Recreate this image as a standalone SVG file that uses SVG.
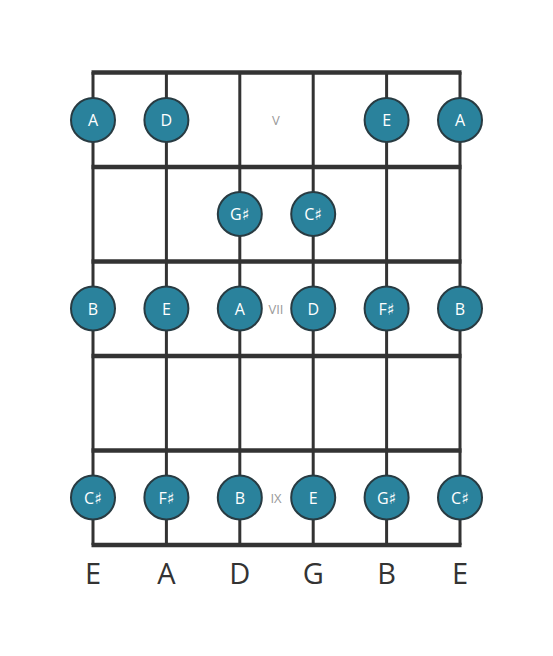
<svg xmlns="http://www.w3.org/2000/svg" width="553" height="656" viewBox="0 0 553 656">
<style>
.s{stroke:#333;stroke-width:3;fill:none}
.f{stroke:#333;stroke-width:4.5;fill:none}
.n circle{fill:#2a829c;stroke:#283b42;stroke-width:2}
.n text{fill:#fff;font-family:"Open Sans","DejaVu Sans",sans-serif;font-size:16px;text-anchor:middle;dominant-baseline:central}
.fl{fill:#999;font-family:"Open Sans","DejaVu Sans",sans-serif;font-size:13px;text-anchor:middle;dominant-baseline:central}
.sl{fill:#333;font-family:"Open Sans","DejaVu Sans",sans-serif;font-size:29px;text-anchor:middle}
</style>
<rect width="553" height="656" fill="#fff"/>
<g id="connectors">
<line class="s" x1="93" y1="72" x2="93" y2="545"/>
<line class="s" x1="166.4" y1="72" x2="166.4" y2="545"/>
<line class="s" x1="239.8" y1="72" x2="239.8" y2="545"/>
<line class="s" x1="313.2" y1="72" x2="313.2" y2="545"/>
<line class="s" x1="386.6" y1="72" x2="386.6" y2="545"/>
<line class="s" x1="460" y1="72" x2="460" y2="545"/>
<line class="f" x1="91.5" y1="72.5" x2="461.5" y2="72.5"/>
<line class="f" x1="91.5" y1="167" x2="461.5" y2="167"/>
<line class="f" x1="91.5" y1="261.5" x2="461.5" y2="261.5"/>
<line class="f" x1="91.5" y1="356" x2="461.5" y2="356"/>
<line class="f" x1="91.5" y1="450.5" x2="461.5" y2="450.5"/>
<line class="f" x1="91.5" y1="545" x2="461.5" y2="545"/>
</g>
<g id="fret-labels">
<text class="fl" x="276" y="120">V</text>
<text class="fl" x="276" y="309">VII</text>
<text class="fl" x="276" y="498">IX</text>
</g>
<g id="string-labels">
<text class="sl" x="93" y="584">E</text>
<text class="sl" x="166.4" y="584">A</text>
<text class="sl" x="239.8" y="584">D</text>
<text class="sl" x="313.2" y="584">G</text>
<text class="sl" x="386.6" y="584">B</text>
<text class="sl" x="460" y="584">E</text>
</g>
<g id="n1" class="n"><circle cx="93" cy="120" r="22"/><text x="93" y="120">A</text></g>
<g id="n2" class="n"><circle cx="166.4" cy="120" r="22"/><text x="166.4" y="120">D</text></g>
<g id="n3" class="n"><circle cx="386.6" cy="120" r="22"/><text x="386.6" y="120">E</text></g>
<g id="n4" class="n"><circle cx="460" cy="120" r="22"/><text x="460" y="120">A</text></g>
<g id="n5" class="n"><circle cx="239.8" cy="214" r="22"/><text x="239.8" y="214">G♯</text></g>
<g id="n6" class="n"><circle cx="313.2" cy="214" r="22"/><text x="313.2" y="214">C♯</text></g>
<g id="n7" class="n"><circle cx="93" cy="308.5" r="22"/><text x="93" y="308.5">B</text></g>
<g id="n8" class="n"><circle cx="166.4" cy="308.5" r="22"/><text x="166.4" y="308.5">E</text></g>
<g id="n9" class="n"><circle cx="239.8" cy="308.5" r="22"/><text x="239.8" y="308.5">A</text></g>
<g id="n10" class="n"><circle cx="313.2" cy="308.5" r="22"/><text x="313.2" y="308.5">D</text></g>
<g id="n11" class="n"><circle cx="386.6" cy="308.5" r="22"/><text x="386.6" y="308.5">F♯</text></g>
<g id="n12" class="n"><circle cx="460" cy="308.5" r="22"/><text x="460" y="308.5">B</text></g>
<g id="n13" class="n"><circle cx="93" cy="497.5" r="22"/><text x="93" y="497.5">C♯</text></g>
<g id="n14" class="n"><circle cx="166.4" cy="497.5" r="22"/><text x="166.4" y="497.5">F♯</text></g>
<g id="n15" class="n"><circle cx="239.8" cy="497.5" r="22"/><text x="239.8" y="497.5">B</text></g>
<g id="n16" class="n"><circle cx="313.2" cy="497.5" r="22"/><text x="313.2" y="497.5">E</text></g>
<g id="n17" class="n"><circle cx="386.6" cy="497.5" r="22"/><text x="386.6" y="497.5">G♯</text></g>
<g id="n18" class="n"><circle cx="460" cy="497.5" r="22"/><text x="460" y="497.5">C♯</text></g>
</svg>
